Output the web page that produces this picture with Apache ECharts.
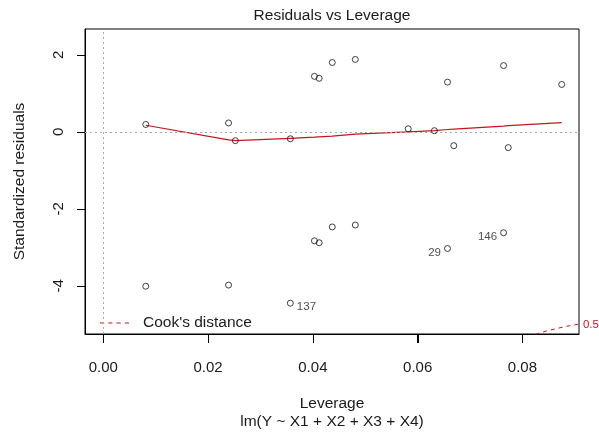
<!DOCTYPE html>
<html>
<head>
<meta charset="utf-8">
<script src="https://cdn.jsdelivr.net/npm/echarts@6/dist/echarts.min.js"></script>
<style>html,body{margin:0;padding:0;background:#fff}#c{width:599px;height:436px}</style>
</head>
<body>
<div id="c"></div>
<script>
// Observations: leverage vs standardized residuals
const leverage = [0.0081, 0.0239, 0.0252, 0.0357, 0.0403, 0.0412, 0.0437, 0.0481, 0.0582, 0.0632, 0.0657, 0.0669, 0.0764, 0.0773, 0.0875,
                  0.0081, 0.0239, 0.0357, 0.0403, 0.0412, 0.0437, 0.0481, 0.0657, 0.0764];
const stdResid = [0.19, 0.23, -0.23, -0.18, 1.44, 1.39, 1.80, 1.88, 0.08, 0.03, 1.29, -0.36, 1.72, -0.41, 1.23,
                  -4.01, -3.98, -4.45, -2.83, -2.88, -2.47, -2.42, -3.03, -2.62];
const pointIds = ['', '', '', '', '', '', '', '', '', '', '', '', '', '', '',
                  '', '', '137', '', '', '', '', '29', '146'];
// Smoother (red line)
const smoothX = [0.0081, 0.0239, 0.0252, 0.0357, 0.0403, 0.0412, 0.0437, 0.0481, 0.0582, 0.0632, 0.0657, 0.0669, 0.0764, 0.0773, 0.0875];
const smoothY = [0.17, -0.21, -0.23, -0.17, -0.14, -0.13, -0.11, -0.06, 0.00, 0.03, 0.06, 0.07, 0.15, 0.16, 0.24];
// Cook's distance 0.5 contour
const cookX = [0.0825, 0.0846, 0.0865, 0.0884, 0.0906];
const cookY = [-5.26, -5.17, -5.11, -5.05, -5.00];
const cookLevel = '0.5';
// Axis ticks
const xTicks = [0, 0.02, 0.04, 0.06, 0.08];
const yTicks = [-4, -2, 0, 2];
const titleText = 'Residuals vs Leverage';
const xName = 'Leverage';
const xSub = 'lm(Y ~ X1 + X2 + X3 + X4)';
const yName = 'Standardized residuals';
const legendName = "Cook's distance";

const xMin = -0.0035, xMax = 0.0908, yMin = -5.25, yMax = 2.67;
const xMid = (xMin + xMax) / 2;
const FONT = 'Liberation Sans, Arial, sans-serif';
const TXT = '#1a1a1a';
const RED = '#c8141e';

const chart = echarts.init(document.getElementById('c'));

const pts = leverage.map((x, i) => {
  const item = {value: [x, stdResid[i]]};
  if (pointIds[i]) {
    item.label = {
      show: true,
      formatter: pointIds[i],
      position: x < xMid ? 'right' : 'left',
      distance: 3,
      offset: [0, 4],
      color: TXT, fontFamily: FONT, fontSize: 11.5
    };
  }
  return item;
});

// Tick marks drawn through the axis scales (outside the plot box)
function tickSeries(name, vals, isX) {
  return {
    name: name, type: 'custom', silent: true, clip: false, z: 6,
    data: vals.map(v => isX ? [v, yMin] : [xMin, v]),
    renderItem: function (params, api) {
      const p = api.coord([api.value(0), api.value(1)]);
      if (isX) {
        const x = Math.round(p[0]) + 0.5, y = Math.round(p[1]);
        return {type: 'line', shape: {x1: x, y1: y, x2: x, y2: y + 9}, style: {stroke: '#000', lineWidth: 1}};
      }
      const x = Math.round(p[0]), y = Math.round(p[1]) + 0.5;
      return {type: 'line', shape: {x1: x - 8, y1: y, x2: x, y2: y}, style: {stroke: '#000', lineWidth: 1}};
    }
  };
}

chart.setOption({
  animation: false,
  backgroundColor: '#fff',
  graphic: [{
    type: 'text', x: 332, y: 16,
    style: {text: titleText, textAlign: 'center', textVerticalAlign: 'middle', fill: TXT, font: '15.5px ' + FONT}
  }],
  legend: {
    left: 100, top: 315, padding: 0,
    itemWidth: 29, itemHeight: 14,
    data: [{name: legendName, icon: 'path://M0,0h4v1h-4zM8,0h4v1h-4zM16,0h4v1h-4zM24,0h4v1h-4z'}],
    textStyle: {color: TXT, fontFamily: FONT, fontSize: 15.5, padding: [0, 0, 0, 9]}
  },
  grid: {left: 85, right: 20, top: 29, bottom: 99, show: true, borderColor: '#000', borderWidth: 1},
  xAxis: {
    type: 'value', min: xMin, max: xMax,
    name: xName + '\n' + xSub, nameLocation: 'middle', nameGap: 61,
    nameTextStyle: {color: TXT, fontFamily: FONT, fontSize: 15.5, lineHeight: 18},
    axisLine: {show: true, onZero: false, lineStyle: {color: '#000'}},
    axisTick: {show: true, length: 9, customValues: xTicks, lineStyle: {color: '#000', width: 1}},
    axisLabel: {customValues: xTicks, margin: 26, color: TXT, fontFamily: FONT, fontSize: 15, formatter: v => v.toFixed(2)},
    splitLine: {show: false}
  },
  yAxis: {
    type: 'value', min: yMin, max: yMax,
    name: yName, nameLocation: 'middle', nameGap: 57,
    nameTextStyle: {color: TXT, fontFamily: FONT, fontSize: 15.5},
    axisLine: {show: true, onZero: false, lineStyle: {color: '#000'}},
    axisTick: {show: true, length: 8, customValues: yTicks, lineStyle: {color: '#000', width: 1}},
    axisLabel: {customValues: yTicks, rotate: 90, margin: 19, color: TXT, fontFamily: FONT, fontSize: 15, formatter: v => String(v)},
    splitLine: {show: false}
  },
  series: [
    tickSeries('xticks', xTicks, true),
    tickSeries('yticks', yTicks, false),
    {
      name: 'points', type: 'scatter', symbol: 'circle', symbolSize: 6,
      itemStyle: {color: 'rgba(255,255,255,0)', borderColor: '#111', borderWidth: 1},
      data: pts, z: 5,
      markLine: {
        silent: true, symbol: 'none', label: {show: false},
        lineStyle: {color: '#a8a8a8', type: [2, 3], width: 1},
        data: [{yAxis: 0}, {xAxis: 0}]
      }
    },
    {
      name: 'smooth', type: 'line', showSymbol: false, symbol: 'none',
      lineStyle: {color: RED, width: 1.2},
      data: smoothX.map((x, i) => [x, smoothY[i]]), z: 4
    },
    {
      name: legendName, type: 'line', showSymbol: false, symbol: 'none', clip: true,
      lineStyle: {color: RED, width: 1, type: [4, 4]},
      itemStyle: {color: RED},
      data: cookX.map((x, i) => [x, cookY[i]]),
      endLabel: {show: true, formatter: cookLevel, distance: 5, color: RED, fontFamily: FONT, fontSize: 11.5}
    }
  ]
});
</script>
</body>
</html>
